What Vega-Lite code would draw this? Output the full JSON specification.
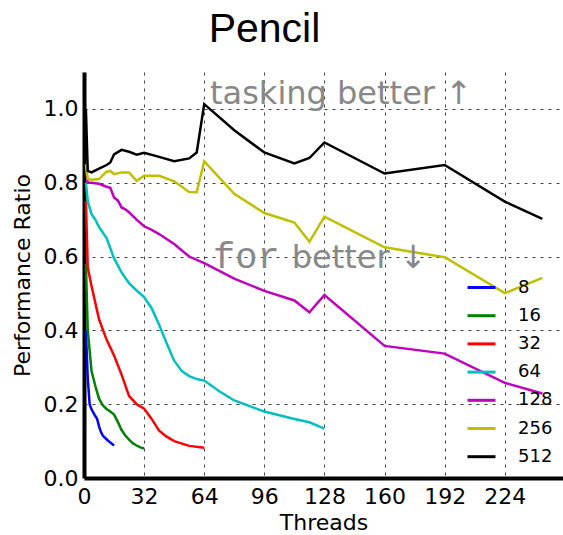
{
  "$schema": "https://vega.github.io/schema/vega-lite/v6.json",
  "width": 479,
  "height": 406,
  "autosize": {"type": "none"},
  "padding": {"left": 84, "top": 72, "right": 0, "bottom": 57},
  "background": "white",
  "title": {"text": "Pencil", "font": "Liberation Sans", "fontSize": 41, "fontWeight": "normal", "color": "black", "anchor": "middle", "dx": -59, "baseline": "alphabetic", "offset": -11},
  "config": {
    "view": {"stroke": null},
    "axis": {
      "labelFont": "DejaVu Sans", "labelFontSize": 22, "labelColor": "black", "labelFlush": false,
      "titleFont": "DejaVu Sans", "titleFontSize": 22, "titleFontWeight": "normal", "titleColor": "black",
      "domainColor": "black", "domainWidth": 4, "tickSize": 0,
      "grid": true, "gridColor": "black", "gridOpacity": 0.75, "gridDash": [3, 5], "gridWidth": 1
    }
  },
  "layer": [
    {
      "mark": {"type": "rule", "color": "#808080", "opacity": 0.5, "strokeWidth": 3},
      "encoding": {"y": {"datum": 1.0, "type": "quantitative"}}
    },
    {
      "data": {"values": [
        {"s": 8, "t": 1, "r": 0.40}, {"s": 8, "t": 2, "r": 0.27}, {"s": 8, "t": 3, "r": 0.20}, {"s": 8, "t": 4, "r": 0.186}, {"s": 8, "t": 6, "r": 0.168}, {"s": 8, "t": 7, "r": 0.16}, {"s": 8, "t": 8, "r": 0.14}, {"s": 8, "t": 9, "r": 0.125}, {"s": 8, "t": 10, "r": 0.115}, {"s": 8, "t": 12, "r": 0.105}, {"s": 8, "t": 14, "r": 0.096}, {"s": 8, "t": 16, "r": 0.088},
        {"s": 16, "t": 1, "r": 0.58}, {"s": 16, "t": 2, "r": 0.40}, {"s": 16, "t": 4, "r": 0.29}, {"s": 16, "t": 6, "r": 0.25}, {"s": 16, "t": 8, "r": 0.215}, {"s": 16, "t": 10, "r": 0.197}, {"s": 16, "t": 12, "r": 0.187}, {"s": 16, "t": 14, "r": 0.18}, {"s": 16, "t": 16, "r": 0.172}, {"s": 16, "t": 18, "r": 0.152}, {"s": 16, "t": 20, "r": 0.13}, {"s": 16, "t": 22, "r": 0.115}, {"s": 16, "t": 24, "r": 0.104}, {"s": 16, "t": 26, "r": 0.094}, {"s": 16, "t": 28, "r": 0.088}, {"s": 16, "t": 30, "r": 0.083}, {"s": 16, "t": 32, "r": 0.08},
        {"s": 32, "t": 1, "r": 0.75}, {"s": 32, "t": 2, "r": 0.57}, {"s": 32, "t": 4, "r": 0.52}, {"s": 32, "t": 8, "r": 0.43}, {"s": 32, "t": 12, "r": 0.375}, {"s": 32, "t": 16, "r": 0.332}, {"s": 32, "t": 20, "r": 0.28}, {"s": 32, "t": 24, "r": 0.222}, {"s": 32, "t": 28, "r": 0.2}, {"s": 32, "t": 32, "r": 0.188}, {"s": 32, "t": 36, "r": 0.16}, {"s": 32, "t": 40, "r": 0.128}, {"s": 32, "t": 44, "r": 0.112}, {"s": 32, "t": 48, "r": 0.1}, {"s": 32, "t": 56, "r": 0.087}, {"s": 32, "t": 64, "r": 0.082},
        {"s": 64, "t": 1, "r": 0.80}, {"s": 64, "t": 2, "r": 0.75}, {"s": 64, "t": 4, "r": 0.715}, {"s": 64, "t": 6, "r": 0.70}, {"s": 64, "t": 8, "r": 0.68}, {"s": 64, "t": 12, "r": 0.65}, {"s": 64, "t": 16, "r": 0.595}, {"s": 64, "t": 20, "r": 0.557}, {"s": 64, "t": 24, "r": 0.528}, {"s": 64, "t": 28, "r": 0.508}, {"s": 64, "t": 32, "r": 0.49}, {"s": 64, "t": 36, "r": 0.46}, {"s": 64, "t": 40, "r": 0.415}, {"s": 64, "t": 44, "r": 0.365}, {"s": 64, "t": 48, "r": 0.318}, {"s": 64, "t": 52, "r": 0.29}, {"s": 64, "t": 56, "r": 0.276}, {"s": 64, "t": 60, "r": 0.268}, {"s": 64, "t": 64, "r": 0.264}, {"s": 64, "t": 72, "r": 0.235}, {"s": 64, "t": 80, "r": 0.21}, {"s": 64, "t": 96, "r": 0.18}, {"s": 64, "t": 112, "r": 0.16}, {"s": 64, "t": 120, "r": 0.151}, {"s": 64, "t": 128, "r": 0.134},
        {"s": 128, "t": 1, "r": 0.84}, {"s": 128, "t": 2, "r": 0.80}, {"s": 128, "t": 4, "r": 0.80}, {"s": 128, "t": 8, "r": 0.797}, {"s": 128, "t": 12, "r": 0.789}, {"s": 128, "t": 14, "r": 0.786}, {"s": 128, "t": 16, "r": 0.76}, {"s": 128, "t": 18, "r": 0.752}, {"s": 128, "t": 20, "r": 0.733}, {"s": 128, "t": 22, "r": 0.728}, {"s": 128, "t": 24, "r": 0.72}, {"s": 128, "t": 28, "r": 0.70}, {"s": 128, "t": 32, "r": 0.682}, {"s": 128, "t": 36, "r": 0.672}, {"s": 128, "t": 40, "r": 0.661}, {"s": 128, "t": 48, "r": 0.634}, {"s": 128, "t": 56, "r": 0.60}, {"s": 128, "t": 64, "r": 0.582}, {"s": 128, "t": 80, "r": 0.54}, {"s": 128, "t": 96, "r": 0.507}, {"s": 128, "t": 112, "r": 0.481}, {"s": 128, "t": 120, "r": 0.449}, {"s": 128, "t": 128, "r": 0.496}, {"s": 128, "t": 160, "r": 0.358}, {"s": 128, "t": 192, "r": 0.337}, {"s": 128, "t": 224, "r": 0.258}, {"s": 128, "t": 244, "r": 0.229},
        {"s": 256, "t": 1, "r": 0.85}, {"s": 256, "t": 2, "r": 0.81}, {"s": 256, "t": 4, "r": 0.808}, {"s": 256, "t": 8, "r": 0.81}, {"s": 256, "t": 12, "r": 0.83}, {"s": 256, "t": 14, "r": 0.832}, {"s": 256, "t": 16, "r": 0.823}, {"s": 256, "t": 20, "r": 0.828}, {"s": 256, "t": 24, "r": 0.828}, {"s": 256, "t": 28, "r": 0.805}, {"s": 256, "t": 32, "r": 0.819}, {"s": 256, "t": 40, "r": 0.819}, {"s": 256, "t": 48, "r": 0.804}, {"s": 256, "t": 56, "r": 0.775}, {"s": 256, "t": 60, "r": 0.774}, {"s": 256, "t": 64, "r": 0.858}, {"s": 256, "t": 80, "r": 0.77}, {"s": 256, "t": 96, "r": 0.718}, {"s": 256, "t": 112, "r": 0.692}, {"s": 256, "t": 120, "r": 0.64}, {"s": 256, "t": 128, "r": 0.708}, {"s": 256, "t": 160, "r": 0.625}, {"s": 256, "t": 192, "r": 0.598}, {"s": 256, "t": 224, "r": 0.501}, {"s": 256, "t": 244, "r": 0.542},
        {"s": 512, "t": 1, "r": 1.0}, {"s": 512, "t": 2, "r": 0.832}, {"s": 512, "t": 4, "r": 0.828}, {"s": 512, "t": 8, "r": 0.838}, {"s": 512, "t": 12, "r": 0.848}, {"s": 512, "t": 14, "r": 0.855}, {"s": 512, "t": 16, "r": 0.877}, {"s": 512, "t": 20, "r": 0.889}, {"s": 512, "t": 24, "r": 0.884}, {"s": 512, "t": 28, "r": 0.876}, {"s": 512, "t": 32, "r": 0.881}, {"s": 512, "t": 40, "r": 0.87}, {"s": 512, "t": 48, "r": 0.858}, {"s": 512, "t": 56, "r": 0.866}, {"s": 512, "t": 60, "r": 0.882}, {"s": 512, "t": 64, "r": 1.013}, {"s": 512, "t": 80, "r": 0.942}, {"s": 512, "t": 96, "r": 0.882}, {"s": 512, "t": 112, "r": 0.852}, {"s": 512, "t": 120, "r": 0.867}, {"s": 512, "t": 128, "r": 0.909}, {"s": 512, "t": 160, "r": 0.825}, {"s": 512, "t": 192, "r": 0.848}, {"s": 512, "t": 224, "r": 0.749}, {"s": 512, "t": 244, "r": 0.702}
      ]},
      "mark": {"type": "line", "strokeWidth": 2.5, "clip": true},
      "encoding": {
        "x": {"field": "t", "type": "quantitative", "title": "Threads",
              "scale": {"domain": [0, 255], "nice": false, "zero": false},
              "axis": {"values": [0, 32, 64, 96, 128, 160, 192, 224], "labelPadding": 8, "titlePadding": 5}},
        "y": {"field": "r", "type": "quantitative", "title": "Performance Ratio",
              "scale": {"domain": [0, 1.1], "nice": false},
              "axis": {"values": [0, 0.2, 0.4, 0.6, 0.8, 1.0], "format": ".1f", "labelPadding": 6, "titlePadding": 9}},
        "color": {"field": "s", "type": "nominal",
                  "scale": {"domain": [8, 16, 32, 64, 128, 256, 512], "range": ["#0000ff", "#008000", "#ff0000", "#00bfbf", "#bf00bf", "#bfbf00", "#000000"]},
                  "legend": {"orient": "none", "legendX": 382, "legendY": 200, "title": null, "symbolType": "stroke", "symbolStrokeWidth": 3, "symbolSize": 784, "labelFont": "DejaVu Sans", "labelFontSize": 18, "labelColor": "black", "labelOffset": 21, "rowPadding": 3.2, "padding": 0}}
      }
    },
    {
      "mark": {"type": "rule", "color": "black", "strokeWidth": 2},
      "encoding": {"y": {"datum": 1.1, "type": "quantitative"}}
    },
    {
      "data": {"values": [{"t": 67.1, "r": 1.013, "label": "tasking better ↑"}, {"t": 110.6, "r": 0.568, "label": "better ↓"}]},
      "mark": {"type": "text", "align": "left", "baseline": "alphabetic", "font": "DejaVu Sans", "fontSize": 32, "color": "#888888"},
      "encoding": {
        "x": {"field": "t", "type": "quantitative", "title": "Threads"},
        "y": {"field": "r", "type": "quantitative", "title": "Performance Ratio"},
        "text": {"field": "label"}
      }
    },
    {
      "data": {"values": [{"t": 68.7, "r": 0.568, "label": "for"}]},
      "mark": {"type": "text", "align": "left", "baseline": "alphabetic", "font": "Liberation Mono", "fontSize": 37, "color": "#888888"},
      "encoding": {
        "x": {"field": "t", "type": "quantitative", "title": "Threads"},
        "y": {"field": "r", "type": "quantitative", "title": "Performance Ratio"},
        "text": {"field": "label"}
      }
    }
  ]
}
